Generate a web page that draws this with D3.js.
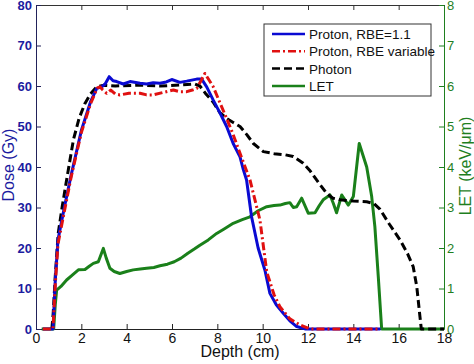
<!DOCTYPE html>
<html>
<head>
<meta charset="utf-8">
<script src="https://cdn.jsdelivr.net/npm/d3@7"></script>
<style>
  body { margin: 0; background: #fff; }
  svg text { font-family: "Liberation Sans", Arial, sans-serif; }
</style>
</head>
<body>
<svg id="chart" width="474" height="364"></svg>
<script>
// depth-dose curves, values (depth cm, dose Gy / LET keV/um)
var protonDepth = [0.3,0.75,0.85,0.97,1.25,1.55,2.0,2.4,2.68,2.9,3.05,3.23,3.4,3.56,3.85,4.15,4.59,4.88,5.17,5.47,5.75,5.99,6.35,6.65,7.09,7.31,7.53,7.82,8.12,8.41,8.7,9.0,9.15,9.29,9.51,9.8,10.1,10.32,10.6,10.91,11.2,11.5,11.9,15.2];
var protonDose  = [0,0,12,22,30,38,49,56,59.4,59.8,60.5,62.3,61.3,61.1,60.5,61.1,60.7,60.5,60.8,60.7,61.0,61.6,60.9,61.2,61.7,61.7,59.8,56.5,53.3,50,45.8,42.5,39.3,36.8,27.7,20,14.5,8.8,6,3.9,2,0.6,0,0];

var rbeDepth = [0.3,0.75,0.85,0.97,1.25,1.55,2.0,2.4,2.7,2.82,2.95,3.12,3.3,3.5,3.7,4.1,4.59,4.88,5.17,5.6,6.06,6.35,6.65,6.9,7.09,7.3,7.45,7.82,8.12,8.41,8.7,9.0,9.44,9.88,10.18,10.5,10.76,11.2,11.65,12.1,15.2];
var rbeDose  = [0,0,11,21,29,37.5,48.5,55.5,59.5,59.8,59,58.2,59,58,57.8,58.2,58.2,57.8,57.8,58.4,59,58.6,58.6,59,59.4,61.5,63.1,59.8,55.8,52,48,43.4,36.8,26.9,14.1,8.5,5.5,2.5,1.0,0,0];

var photonDepth = [0.7,0.76,0.85,0.98,1.15,1.35,1.65,1.9,2.16,2.4,2.68,3.0,3.5,4.5,5.5,6.5,7.0,7.23,7.5,7.82,8.1,8.41,8.7,9.0,9.3,9.59,10.03,10.5,11.0,11.35,11.79,12.1,12.38,12.82,13.1,13.41,14.0,14.59,14.9,15.17,15.6,16.06,16.4,16.64,16.8,16.94,17.0,18];
var photonDose  = [0,4,13,23.6,30,36.8,46.7,52,55.7,58,59.8,60.2,60,60.2,60,60.3,60.5,60,58,56,53.5,52,51,50,48,45.8,43.8,43.3,43,42.6,40.9,39,36.8,33.5,32.3,31.9,31.6,31.4,31,29.6,25.8,22,18.5,15.4,10.4,3,0,0];

var letDepth = [0.25,0.78,0.85,0.91,1.1,1.35,1.6,1.87,2.16,2.35,2.53,2.75,2.97,3.1,3.26,3.45,3.7,4.0,4.29,4.6,4.88,5.2,5.47,5.8,6.1,6.4,6.7,7.0,7.23,7.6,7.97,8.3,8.7,9.1,9.44,9.8,10.18,10.5,10.76,11.0,11.2,11.35,11.5,11.72,12.01,12.31,12.5,12.67,12.97,13.12,13.26,13.49,13.78,14.0,14.26,14.59,14.81,14.95,15.1,15.25,18];
var letValue = [0,0,0.6,0.96,1.05,1.21,1.33,1.46,1.47,1.55,1.62,1.66,1.99,1.75,1.5,1.42,1.37,1.42,1.46,1.48,1.5,1.52,1.56,1.6,1.66,1.75,1.87,1.98,2.07,2.2,2.36,2.47,2.61,2.7,2.77,2.92,3.02,3.05,3.06,3.1,3.12,3.0,3.02,3.23,2.86,2.87,3.05,3.19,3.31,3.1,2.87,3.31,3.06,3.27,4.58,4.0,3.27,2.53,1.3,0,0];

var legendNames = ["Proton, RBE=1.1", "Proton, RBE variable", "Photon", "LET"];

var svg = d3.select("#chart");
var padL = 36, padR = 444, padT = 5, padB = 329;

var x = d3.scaleLinear().domain([0, 18]).range([padL, padR]);
var yDose = d3.scaleLinear().domain([0, 80]).range([padB, padT]);
var yLet = d3.scaleLinear().domain([0, 8]).range([padB, padT]);

var doseColor = "#1c1ca0", letColor = "#1f7f1f";

// top border with ticks
var topAxis = svg.append("g").attr("transform", "translate(0," + padT + ")")
  .call(d3.axisTop(x).ticks(9).tickSize(-5).tickSizeOuter(0).tickFormat(""));
topAxis.selectAll("path,line").attr("stroke", "#333");

var xAxis = svg.append("g").attr("transform", "translate(0," + padB + ")")
  .call(d3.axisBottom(x).ticks(9).tickSize(-5).tickSizeOuter(0).tickPadding(4));
xAxis.selectAll("path,line").attr("stroke", "#222");
xAxis.selectAll("text").attr("font-size", 14).attr("fill", "#111");

var yAxisL = svg.append("g").attr("transform", "translate(" + padL + ",0)")
  .call(d3.axisLeft(yDose).ticks(8).tickSize(-5).tickSizeOuter(0).tickPadding(4));
yAxisL.selectAll("path,line").attr("stroke", "#22225a");
yAxisL.selectAll("text").attr("font-size", 13).attr("font-weight", "bold").attr("fill", doseColor);

var yAxisR = svg.append("g").attr("transform", "translate(" + padR + ",0)")
  .call(d3.axisRight(yLet).ticks(8).tickSize(-5).tickSizeOuter(0).tickPadding(3));
yAxisR.selectAll("path,line").attr("stroke", letColor);
yAxisR.selectAll("text").attr("font-size", 13).attr("fill", letColor);

svg.selectAll(".domain").attr("stroke-width", 1);

// axis titles
svg.append("text").attr("x", 240).attr("y", 357).attr("text-anchor", "middle")
  .attr("font-size", 16).attr("fill", "#111").text("Depth (cm)");
svg.append("text").attr("transform", "translate(14,165) rotate(-90)")
  .attr("text-anchor", "middle").attr("font-size", 16).attr("fill", doseColor).text("Dose (Gy)");
svg.append("text").attr("transform", "translate(471,166) rotate(-90)")
  .attr("text-anchor", "middle").attr("font-size", 16).attr("fill", letColor).text("LET (keV/μm)");

function drawLine(xs, ys, yScale, color, dash) {
  var pts = xs.map(function(d, i) { return [d, ys[i]]; });
  var line = d3.line()
    .x(function(d) { return x(d[0]); })
    .y(function(d) { return yScale(d[1]); });
  svg.append("path").datum(pts)
    .attr("d", line)
    .attr("fill", "none")
    .attr("stroke", color)
    .attr("stroke-width", 3)
    .attr("stroke-linejoin", "round")
    .attr("stroke-dasharray", dash);
}

var styles = [
  {color: "#0a0ad2", dash: null},
  {color: "#e01010", dash: "8,3,2,3"},
  {color: "#000", dash: "8,4"},
  {color: "#1a801a", dash: null}
];

drawLine(letDepth, letValue, yLet, styles[3].color, null);
drawLine(photonDepth, photonDose, yDose, styles[2].color, styles[2].dash);
drawLine(protonDepth, protonDose, yDose, styles[0].color, null);
drawLine(rbeDepth, rbeDose, yDose, styles[1].color, styles[1].dash);

// legend
var lg = svg.append("g");
lg.append("rect").attr("x", 264).attr("y", 24).attr("width", 167).attr("height", 72)
  .attr("fill", "#fff").attr("stroke", "#333").attr("stroke-width", 1);
legendNames.forEach(function(name, i) {
  var yy = 34 + i * 17.3;
  lg.append("line").attr("x1", 272).attr("x2", 305).attr("y1", yy).attr("y2", yy)
    .attr("stroke", styles[i].color).attr("stroke-width", 2.5)
    .attr("stroke-dasharray", styles[i].dash);
  lg.append("text").attr("x", 309).attr("y", yy + 5).attr("font-size", 13.5)
    .attr("fill", "#111").text(name);
});
</script>
</body>
</html>
